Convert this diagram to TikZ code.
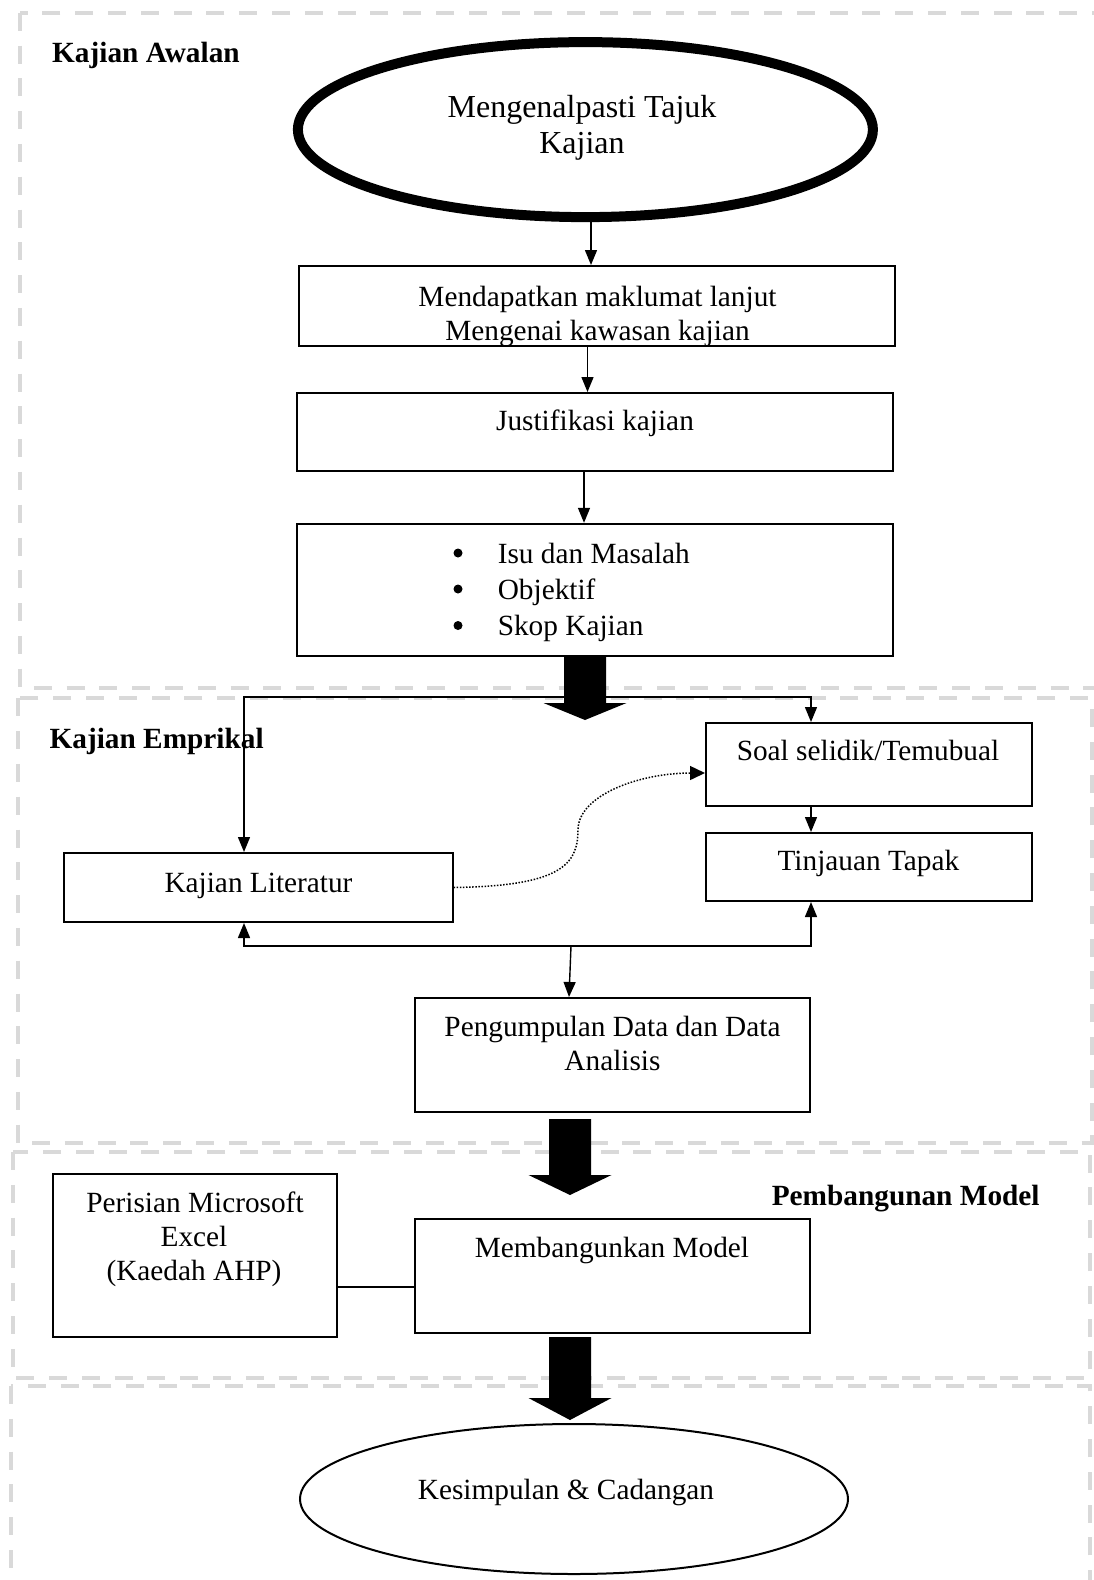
\documentclass[tikz,border=0pt]{standalone}
\usepackage{fontspec}
\setmainfont{Liberation Serif}
\usetikzlibrary{arrows.meta,shapes.geometric,calc}
\newcommand\blockarrow[4]{\fill (#1-21,#2) -- (#1+21,#2) -- (#1+21,#3) -- (#1+41.5,#3) -- (#1,#4) -- (#1-41.5,#3) -- (#1-21,#3) -- cycle;}
\begin{document}
\begin{tikzpicture}[x=1pt,y=-1pt,
  every node/.style={font=\fontsize{29.3}{34}\selectfont},
  box/.style={draw, line width=2pt, rectangle, inner sep=0pt},
  lbl/.style={anchor=base, inner sep=0pt},
  biglbl/.style={anchor=base, inner sep=0pt, font=\fontsize{32}{36}\selectfont},
  lblw/.style={anchor=base west, inner sep=0pt},
  head/.style={anchor=base west, inner sep=0pt, font=\fontsize{29.3}{34}\selectfont\bfseries},
  arr/.style={line width=1.4pt, -{Triangle[length=15pt,width=12pt]}},
  arrb/.style={line width=1.4pt, {Triangle[length=15pt,width=12pt]}-{Triangle[length=15pt,width=12pt]}},
  dotarr/.style={line width=1.5pt, dash pattern=on 1.5pt off 1.6pt, -{Triangle[length=15pt,width=14pt]}},
  sect/.style={draw=gray!30, line width=4pt, dash pattern=on 18pt off 14.8pt},
]
\useasboundingbox (0,0) rectangle (1094,1580);

% section frames
\draw[sect] (20,12.7) rectangle (1120,687.7);
\draw[sect] (17.5,698.3) rectangle (1092,1143);
\draw[sect] (12.6,1152) rectangle (1090,1378);
\draw[sect] (11,1386) rectangle (1090,1620);

% labels of sections
\node[head] (hA) at (52,62) {Kajian Awalan};
\node[head] (hB) at (49.4,748) {Kajian Emprikal};
\node[head] (hC) at (771.6,1205) {Pembangunan Model};

% nodes
\node[ellipse, draw, line width=10pt, minimum width=575pt, minimum height=175pt, inner sep=0pt] (e1) at (585.4,129.6) {};
\node[biglbl] (t1a) at (582,117) {Mengenalpasti Tajuk};
\node[biglbl] (t1b) at (582,153) {Kajian};

\node[box, minimum width=596pt, minimum height=79.5pt] (b1) at (597,305.75) {};
\begin{scope}
\clip ([shift={(2pt,2pt)}]b1.south west) rectangle ([shift={(-2pt,-2pt)}]b1.north east);
\node[lbl] (t2a) at (597.5,306) {Mendapatkan maklumat lanjut};
\node[lbl] (t2b) at (597.5,340) {Mengenai kawasan kajian};
\end{scope}

\node[box, minimum width=595.5pt, minimum height=77.5pt] (b2) at (594.75,431.75) {};
\node[lbl] (t3) at (595,430) {Justifikasi kajian};

\node[box, minimum width=595.5pt, minimum height=132pt] (b3) at (594.75,589.8) {};
\fill (458,553) circle (4.5);
\fill (458,589) circle (4.5);
\fill (458,625.5) circle (4.5);
\node[lblw] (t4a) at (497.6,563) {Isu dan Masalah};
\node[lblw] (t4b) at (497.6,599) {Objektif};
\node[lblw] (t4c) at (497.6,635.5) {Skop Kajian};

\node[box, minimum width=326pt, minimum height=83pt] (soal) at (869,764.5) {};
\node[lbl] (t5) at (868,760) {Soal selidik/Temubual};
\node[box, minimum width=326pt, minimum height=68pt] (tin) at (869,867) {};
\node[lbl] (t6) at (868.4,870) {Tinjauan Tapak};
\node[box, minimum width=388.6pt, minimum height=69pt] (lit) at (258.3,887.5) {};
\node[lbl] (t7) at (258.5,892) {Kajian Literatur};

\node[box, minimum width=395pt, minimum height=114pt] (pen) at (612.5,1055) {};
\node[lbl] (t8a) at (612.5,1036.5) {Pengumpulan Data dan Data};
\node[lbl] (t8b) at (612.5,1070) {Analisis};

\node[box, minimum width=284pt, minimum height=163pt] (per) at (195,1255.5) {};
\node[lbl] (t9a) at (195,1212) {Perisian Microsoft};
\node[lbl] (t9b) at (194,1246) {Excel};
\node[lbl] (t9c) at (194,1280) {(Kaedah AHP)};

\node[box, minimum width=395pt, minimum height=114pt] (mem) at (612.5,1276) {};
\node[lbl] (t10) at (612,1257) {Membangunkan Model};

\node[ellipse, draw, line width=2pt, minimum width=548pt, minimum height=150pt, inner sep=0pt] (e2) at (574,1499) {};
\node[lbl] (t11) at (566,1499) {Kesimpulan \& Cadangan};

% helper coordinates
\coordinate (xa) at (591,0);
\coordinate (xb) at (587.5,0);
\coordinate (xc) at (584,0);
\coordinate (xl) at (244,0);
\coordinate (xs) at (811,0);
\coordinate (topbar) at (0,697);
\coordinate (botbar) at (0,946);
\coordinate (pj) at (571,946);
\coordinate (ly) at (0,1287);
\coordinate (mid) at (578,830);

% thin connectors
\draw[arr] (e1.south -| xa) -- (b1.north -| xa);
\draw[arr] (b1.south -| xb) -- (b2.north -| xb);
\draw[arr] (b2.south -| xc) -- (b3.north -| xc);

% block arrows
\blockarrow{585}{657}{703}{720}
\blockarrow{570}{1119}{1175}{1195}
\blockarrow{570}{1337}{1398}{1420}

\draw[arrb] (lit.north -| xl) -- (xl |- topbar) -- (xs |- topbar) -- (soal.north -| xs);
\draw[arr] (soal.south -| xs) -- (tin.north -| xs);
\draw[arrb] (lit.south -| xl) -- (xl |- botbar) -- (xs |- botbar) -- (tin.south -| xs);
\draw[arr] (pj) -- ([xshift=-43.5pt]pen.north);
\draw[dotarr] (lit.east) .. controls (560,886) and (578,865) .. (mid) .. controls (578,795) and (640,773) .. ([yshift=-8.5pt]soal.west);
\draw[line width=1.4pt] (per.east |- ly) -- (mem.west |- ly);
\end{tikzpicture}
\end{document}
